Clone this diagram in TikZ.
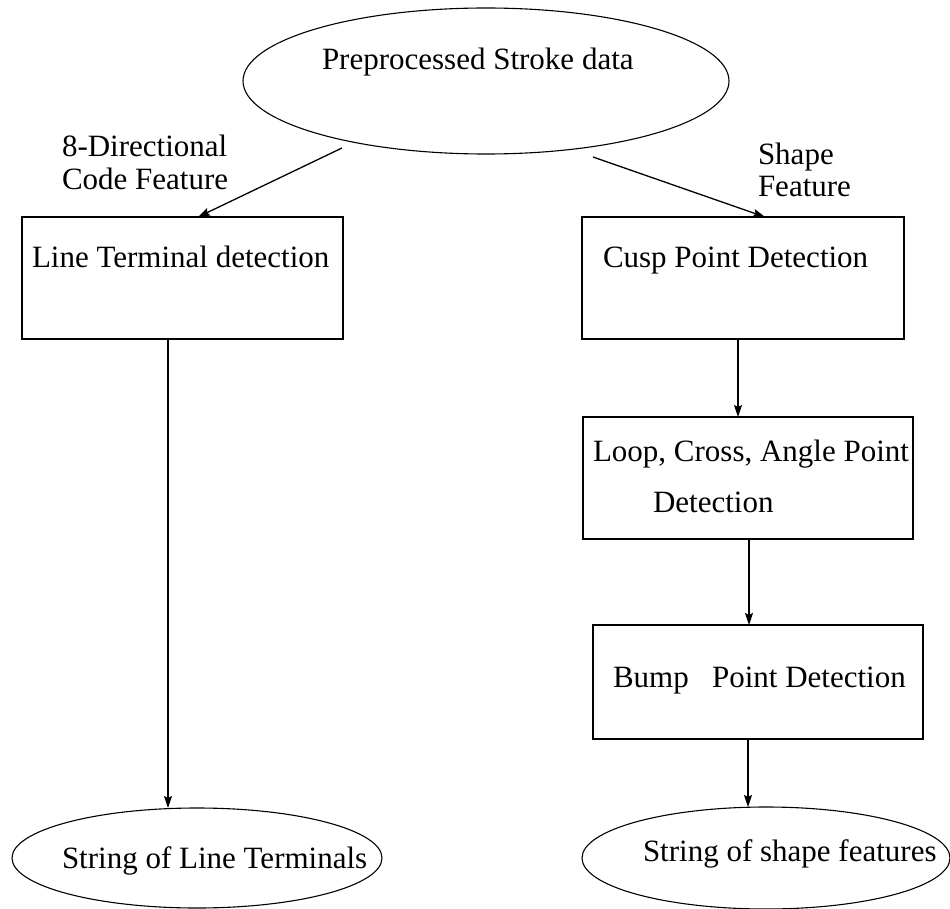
\documentclass[tikz,border=0pt]{standalone}
\usepackage{fontspec}
\setmainfont{Liberation Serif}
\usetikzlibrary{arrows.meta,shapes.geometric}
\begin{document}
\begin{tikzpicture}[x=1pt,y=-1pt,
  every node/.style={inner sep=0pt,outer sep=0pt},
  lbl/.style={anchor=base west,font=\fontsize{31}{37}\selectfont},
  oval/.style={draw,ellipse,line width=1.1pt},
  boxnode/.style={draw,rectangle,line width=1.4pt},
  arr/.style={line width=1.3pt,-{Stealth[length=12pt,width=8pt,inset=2pt]}}]
\useasboundingbox (0,0) rectangle (950,909);
% shapes
\node[oval,minimum width=486pt,minimum height=146pt] (top) at (486,81) {};
\node[boxnode,minimum width=321pt,minimum height=122pt] (lt) at (182.5,278) {};
\node[boxnode,minimum width=322pt,minimum height=122pt] (cusp) at (743,278) {};
\node[boxnode,minimum width=330pt,minimum height=122pt] (loop) at (748,478) {};
\node[boxnode,minimum width=330pt,minimum height=114pt] (bump) at (758,682) {};
\node[oval,minimum width=370pt,minimum height=100pt] (lb) at (197,858) {};
\node[oval,minimum width=368pt,minimum height=102pt] (rb) at (766,858) {};
% texts
\node[lbl] (ttop) at (322,70) {Preprocessed Stroke data};
\node[lbl] (d1) at (62,157) {8-Directional};
\node[lbl] (d2) at (62,190) {Code Feature};
\node[lbl] (s1) at (758,165) {Shape};
\node[lbl] (s2) at (758,197) {Feature};
\node[lbl] (tlt) at (32,268) {Line Terminal detection};
\node[lbl] (tcusp) at (603,268) {Cusp Point Detection};
\node[lbl] (tloop1) at (593,461) {Loop, Cross, Angle Point};
\node[lbl] (tloop2) at (653,512) {Detection};
\node[lbl] (tbump) at (613,687) {Bump\ \ \ Point Detection};
\node[lbl] (tlb) at (62,868) {String of Line Terminals};
\node[lbl] (trb) at (643,861) {String of shape features};
% connectors
\draw[arr] ([xshift=-144pt,yshift=-67pt]top.center) -- ([xshift=15.5pt]lt.north);
\draw[arr] ([xshift=107pt,yshift=-76pt]top.center) -- ([xshift=22pt]cusp.north);
\coordinate (a1) at ([xshift=-14.5pt]lt.south);
\draw[arr] (a1) -- (a1 |- lb.north);
\coordinate (a2) at ([xshift=-5pt]cusp.south);
\draw[arr] (a2) -- (a2 |- loop.north);
\coordinate (a3) at ([xshift=1pt]loop.south);
\draw[arr] (a3) -- (a3 |- bump.north);
\coordinate (a4) at ([xshift=-10pt]bump.south);
\draw[arr] (a4) -- (a4 |- rb.north);
\end{tikzpicture}
\end{document}
